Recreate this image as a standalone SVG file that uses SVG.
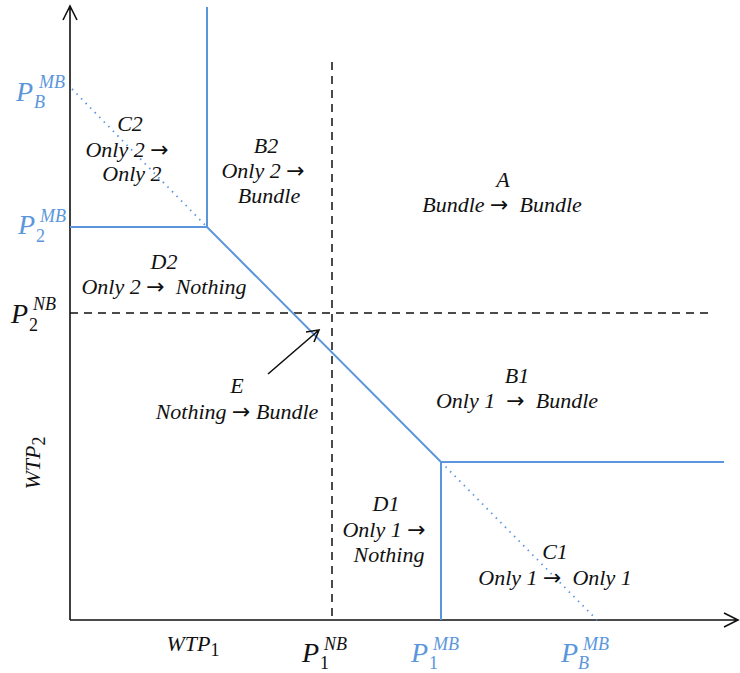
<svg xmlns="http://www.w3.org/2000/svg" width="740" height="673" viewBox="0 0 740 673">
<style>
.t{font-family:"Liberation Serif","DejaVu Serif",serif;font-style:italic;font-size:22px;fill:#111;text-anchor:middle;white-space:pre}
.ar{font-family:"DejaVu Sans",sans-serif;font-style:normal;font-size:22px}
.p{font-family:"Liberation Serif","DejaVu Serif",serif;font-style:italic;font-size:28px}
.s{font-family:"Liberation Serif","DejaVu Serif",serif;font-style:italic;font-size:18px}
.n{font-family:"Liberation Serif","DejaVu Serif",serif;font-style:normal;font-size:18px}
.blue{fill:#5b96dc}
.blk{fill:#111}
.bl{stroke:#5b96dc;stroke-width:2;fill:none}
.ax{stroke:#111;stroke-width:1.6;fill:none}
.da{stroke:#111;stroke-width:1.5;stroke-dasharray:8 6;fill:none}
.dot{stroke:#5b96dc;stroke-width:1.8;stroke-dasharray:1.5 5;fill:none}
</style>
<rect width="740" height="673" fill="#fff"/>
<g id="connectors">
<path class="ax" d="M70,620 V6 M63,20 L70,6 L77,20"/>
<path class="ax" d="M70,620 H738 M724,613 L738,620 L724,627"/>
<path class="da" d="M332,62 V620"/>
<path class="da" d="M70,313 H710"/>
<path class="dot" d="M72,89 L207,227"/>
<path class="dot" d="M441,462 L597,620"/>
<path class="bl" d="M207,7 V227 M70,227 H207 L441,462 H724 M441,462 V620"/>
<path class="ax" d="M268,374 L319,330 M306,332 L319,330 L314,342"/>
</g>
<g id="C2"><text class="t" x="130" y="131">C2</text><text class="t" x="127" y="157">Only 2 <tspan class="ar">→</tspan></text><text class="t" x="132" y="181">Only 2</text></g>
<g id="B2"><text class="t" x="266" y="153">B2</text><text class="t" x="263" y="178">Only 2 <tspan class="ar">→</tspan></text><text class="t" x="269" y="203">Bundle</text></g>
<g id="A"><text class="t" x="503" y="187">A</text><text class="t" x="502" y="212">Bundle <tspan class="ar">→</tspan>&#160; Bundle</text></g>
<g id="D2"><text class="t" x="164" y="269">D2</text><text class="t" x="164" y="294">Only 2 <tspan class="ar">→</tspan>&#160; Nothing</text></g>
<g id="E"><text class="t" x="237" y="393">E</text><text class="t" x="237" y="419">Nothing <tspan class="ar">→</tspan> Bundle</text></g>
<g id="B1"><text class="t" x="517" y="383">B1</text><text class="t" x="517" y="408">Only 1&#160; <tspan class="ar">→</tspan>&#160; Bundle</text></g>
<g id="D1"><text class="t" x="386" y="511">D1</text><text class="t" x="384" y="537">Only 1 <tspan class="ar">→</tspan></text><text class="t" x="389" y="562">Nothing</text></g>
<g id="C1"><text class="t" x="555" y="559">C1</text><text class="t" x="555" y="585">Only 1 <tspan class="ar">→</tspan>&#160; Only 1</text></g>
<g id="axis-labels">
<text class="t" x="193" y="651">WTP<tspan class="n" dy="5">1</tspan></text>
<text class="t" transform="translate(40,463) rotate(-90)" x="0" y="0">WTP<tspan class="n" dy="5">2</tspan></text>
</g>
<g id="price-labels">
<text class="p blue" x="16" y="101">P</text><text class="s blue" x="39" y="88">MB</text><text class="s blue" x="34" y="108">B</text>
<text class="p blue" x="18" y="234">P</text><text class="s blue" x="40" y="222">MB</text><text class="n blue" x="36" y="242">2</text>
<text class="p blk" x="11" y="323">P</text><text class="s blk" x="33" y="310">NB</text><text class="n blk" x="29" y="331">2</text>
<text class="p blk" x="302" y="662">P</text><text class="s blk" x="324" y="650">NB</text><text class="n blk" x="320" y="669">1</text>
<text class="p blue" x="411" y="662">P</text><text class="s blue" x="433" y="650">MB</text><text class="n blue" x="429" y="669">1</text>
<text class="p blue" x="561" y="662">P</text><text class="s blue" x="583" y="650">MB</text><text class="s blue" x="578" y="669">B</text>
</g>
</svg>
